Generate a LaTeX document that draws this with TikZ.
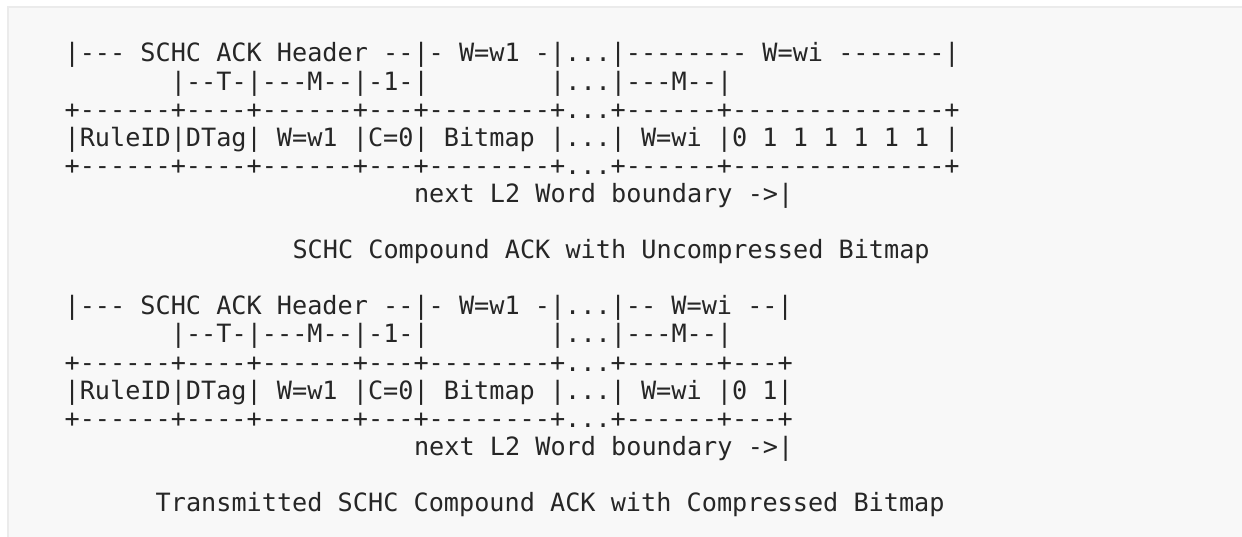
\documentclass[tikz,border=0pt]{standalone}
\usepackage{fontspec}
\setmonofont{DejaVu Sans Mono}
\definecolor{panel_bg}{HTML}{F8F8F8}
\definecolor{panel_edge}{HTML}{EBEBEB}
\definecolor{ascii_txt}{HTML}{262626}

\begin{document}
\begin{tikzpicture}[x=1pt,y=1pt,
	ascii_line/.style={anchor=base west,inner sep=0pt,text=ascii_txt,
		font=\ttfamily\frenchspacing\fontsize{25.2}{28}\selectfont}]

		\useasboundingbox (0,0) rectangle (1242,537);
		\fill[panel_bg] (8,0) rectangle (1242,530);
		\draw[panel_edge,line width=2pt] (8,0) -- (8,530) -- (1242,530);

		% uncompressed bitmap
		\node[ascii_line] (u_hdr) at (64.4,475) {|--- SCHC ACK Header --|- W=w1 -|...|-------- W=wi -------|};
		\node[ascii_line] (u_sub) at (170.7,446.9) {|--T-|---M--|-1-|~~~~~~~~|...|---M--|};
		\node[ascii_line] (u_top) at (64.4,418.8) {+------+----+------+---+--------+...+------+--------------+};
		\node[ascii_line] (u_fld) at (64.4,390.7) {|RuleID|DTag| W=w1 |C=0| Bitmap |...| W=wi |0 1 1 1 1 1 1 |};
		\node[ascii_line] (u_bot) at (64.4,362.6) {+------+----+------+---+--------+...+------+--------------+};
		\node[ascii_line] (u_bnd) at (413.8,334.5) {next L2 Word boundary ->|};
		\node[ascii_line] (u_cap) at (292.3,278.3) {SCHC Compound ACK with Uncompressed Bitmap};

		% compressed bitmap
		\node[ascii_line] (c_hdr) at (64.4,222.1) {|--- SCHC ACK Header --|- W=w1 -|...|-- W=wi --|};
		\node[ascii_line] (c_sub) at (170.7,194.0) {|--T-|---M--|-1-|~~~~~~~~|...|---M--|};
		\node[ascii_line] (c_top) at (64.4,165.9) {+------+----+------+---+--------+...+------+---+};
		\node[ascii_line] (c_fld) at (64.4,137.8) {|RuleID|DTag| W=w1 |C=0| Bitmap |...| W=wi |0 1|};
		\node[ascii_line] (c_bot) at (64.4,109.7) {+------+----+------+---+--------+...+------+---+};
		\node[ascii_line] (c_bnd) at (413.8,81.6) {next L2 Word boundary ->|};
		\node[ascii_line] (c_cap) at (155.5,25.4) {Transmitted SCHC Compound ACK with Compressed Bitmap};
		\end{tikzpicture}
\end{document}
